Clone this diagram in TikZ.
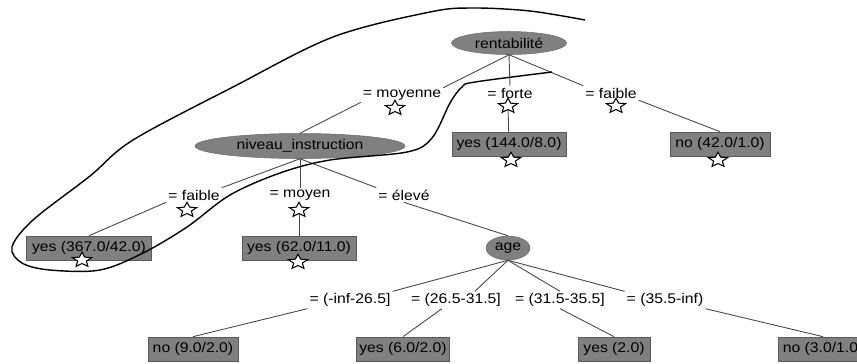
\documentclass[tikz,border=0pt]{standalone}
\usepackage{fontspec}
\setmainfont{Liberation Sans}[FakeStretch=1.12]
\usepackage{tikz}
\usetikzlibrary{calc}
\usetikzlibrary{shapes}
\usetikzlibrary{positioning}
\usetikzlibrary{shapes.geometric}

\definecolor{nodegray}{RGB}{128,128,128}
\definecolor{edgegray}{RGB}{70,70,70}

\begin{document}
\begin{tikzpicture}[x=0.02cm, y=-0.02cm, font=\fontsize{8}{9}\selectfont,
 attr/.style={ellipse, fill=nodegray, draw=nodegray!85!black, line width=0.3pt, inner sep=0pt},
 leaf/.style={rectangle, fill=nodegray, draw=nodegray!70!black, line width=0.4pt, minimum height=0.48cm, inner sep=1pt},
 cond/.style={rectangle, inner sep=1pt},
 pstar/.style={star, star points=5, star point ratio=2.2, draw=black, fill=white, line width=0.6pt, minimum size=0.31cm, inner sep=0pt, xscale=1.3},
 link/.style={draw=edgegray, line width=0.5pt},
 lasso/.style={draw=black, line width=0.8pt}]
 \useasboundingbox (0,0) rectangle (857,363);

 % inner nodes
 \node [attr, minimum width=2.3cm, minimum height=0.46cm] (rent) at (509,43) {rentabilité};
 \node [attr, minimum width=4.2cm, minimum height=0.5cm] (niv) at (300,146) {niveau\_instruction};
 \node [attr, minimum width=0.88cm, minimum height=0.48cm] (age) at (508,248) {age};

 % branch labels
 \node [cond] (cmoy) at (402,95) {= moyenne};
 \node [pstar] (smoy) at (395,108) {};
 \node [cond] (cfor) at (510,93) {= forte};
 \node [pstar] (sfor) at (508,106) {};
 \node [cond] (cfai) at (611,93) {= faible};
 \node [pstar] (sfai) at (616,106) {};
 \node [cond] (cnfai) at (194,195) {= faible};
 \node [pstar] (snfai) at (187,210) {};
 \node [cond] (cnmoy) at (300,195) {= moyen};
 \node [pstar] (snmoy) at (299,210) {};
 \node [cond] (cnele) at (404,195) {= élevé};
 \node [cond] (ca) at (350,300) {= (-inf-26.5]};
 \node [cond] (cb) at (456,300) {= (26.5-31.5]};
 \node [cond] (cc) at (560,300) {= (31.5-35.5]};
 \node [cond] (cd) at (665,300) {= (35.5-inf)};

 % leaves
 \node [leaf, minimum width=2.28cm] (y144) at (509,144) {yes (144.0/8.0)};
 \node [pstar] (sy144) at (511,160) {};
 \node [leaf, minimum width=2.0cm] (n42) at (720,144) {no (42.0/1.0)};
 \node [pstar] (sn42) at (718,160) {};
 \node [leaf, minimum width=2.5cm] (y367) at (89,248) {yes (367.0/42.0)};
 \node [pstar] (sy367) at (82,260) {};
 \node [leaf, minimum width=2.28cm] (y62) at (299,248) {yes (62.0/11.0)};
 \node [pstar] (sy62) at (298,262) {};
 \node [leaf, minimum width=1.8cm] (n9) at (193,349) {no (9.0/2.0)};
 \node [leaf, minimum width=1.86cm] (y6) at (403,349) {yes (6.0/2.0)};
 \node [leaf, minimum width=1.44cm] (y2) at (614,349) {yes (2.0)};
 \node [leaf, minimum width=1.8cm] (n3) at (823,349) {no (3.0/1.0)};

 % branches
 \draw [link] (rent.south) -- (cmoy.north east);
 \draw [link] (rent.south) -- (cfor.north);
 \draw [link] (rent.south) -- (cfai.north west);
 \draw [link] (cmoy.south west) -- (niv.north);
 \draw [link] (sfor) -- (y144);
 \draw [link] (cfai.south east) -- (n42.north);
 \draw [link] (niv.south) -- (cnfai.north east);
 \draw [link] (niv.south) -- (cnmoy.north);
 \draw [link] (niv.south) -- (cnele.north west);
 \draw [link] (cnfai.south west) -- (y367.north);
 \draw [link] (snmoy) -- (y62);
 \draw [link] (cnele.south) -- (age.north);
 \draw [link] (age.south) -- (ca.north east);
 \draw [link] (age.south) -- ($(cb.north)!0.4!(cb.north east)$);
 \draw [link] (age.south) -- (cc.north);
 \draw [link] (age.south) -- (cd.north west);
 \draw [link] (ca.south west) -- (n9.north);
 \draw [link] ($(cb.south west)!0.35!(cb.south east)$) -- (y6.north);
 \draw [link] (cc.south) -- (y2.north);
 \draw [link] (cd.south east) -- (n3.north);

 % hand drawn lasso
 \draw [lasso] plot [smooth, tension=0.55] coordinates {(585,20) (530,11) (473,8) (430,12) (333,37) (233,87) (133,140) (90,176) (33,220) (12,247) (22,263) (50,270) (100,270) (143,253) (187,227) (230,195) (280,173) (330,160) (407,152) (432,138) (450,103) (462,87) (475,82) (552,72)};
\end{tikzpicture}
\end{document}
